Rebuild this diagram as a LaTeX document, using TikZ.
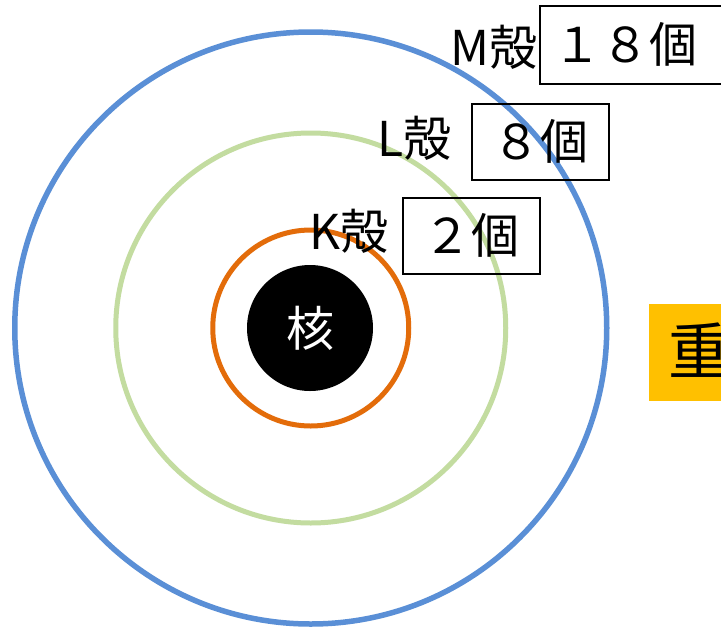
\documentclass[tikz,border=0pt]{standalone}
\usepackage{fontspec}
\setmainfont{Noto Sans CJK JP}
\definecolor{shellM}{HTML}{5A8FD6}
\definecolor{shellL}{HTML}{C3DCA0}
\definecolor{shellK}{HTML}{E36C0A}
\definecolor{accent}{HTML}{FFC000}
\begin{document}
\begin{tikzpicture}[x=1pt,y=-1pt,
  shell/.style={circle, draw, inner sep=0pt, line width=5pt},
  countbox/.style={draw=black, line width=1.6pt, inner sep=0pt, anchor=north west, align=center},
  shelllabel/.style={inner sep=0pt, anchor=east, font=\fontsize{48}{52}\selectfont},
  boxtext/.style={font=\fontsize{48}{52}\selectfont}]
\clip (0,0) rectangle (721,630);
\fill[white] (0,0) rectangle (721,630);
\node[shell, draw=shellM, line width=5.5pt, minimum size=592pt] (M) at (310.75,328) {};
\node[shell, draw=shellL, minimum size=390pt] (L) at (310.75,328) {};
\node[shell, draw=shellK, minimum size=196pt] (K) at (310.75,328) {};
\node[circle, fill=black, inner sep=0pt, minimum size=126pt, text=white, font=\fontsize{48}{52}\selectfont] (nuc) at (310,328) {核};
% count boxes
\node[countbox, minimum width=137pt, minimum height=76pt] (Kbox) at (402,197) {};
\node[boxtext] (Ktext) at (Kbox.center) {２個};
\node[countbox, minimum width=137pt, minimum height=76pt] (Lbox) at (471,103) {};
\node[boxtext] (Ltext) at (Lbox.center) {８個};
\node[countbox, minimum width=200pt, minimum height=78pt] (Mbox) at (539,5) {};
\node[boxtext, anchor=west, inner sep=0pt] (Mtext) at (553,44) {１８個};
% labels
\node[shelllabel] (Klabel) at (389,231) {K殻};
\node[shelllabel] (Llabel) at (452,138) {L殻};
\node[shelllabel] (Mlabel) at (538,47) {M殻};
% highlighted box
\node[fill=accent, inner sep=0pt, anchor=north west, minimum width=120pt, minimum height=97pt] (hl) at (649,304) {};
\node[inner sep=0pt, anchor=west, font=\fontsize{62}{66}\selectfont] (hltext) at (668,350) {重};
\end{tikzpicture}
\end{document}
